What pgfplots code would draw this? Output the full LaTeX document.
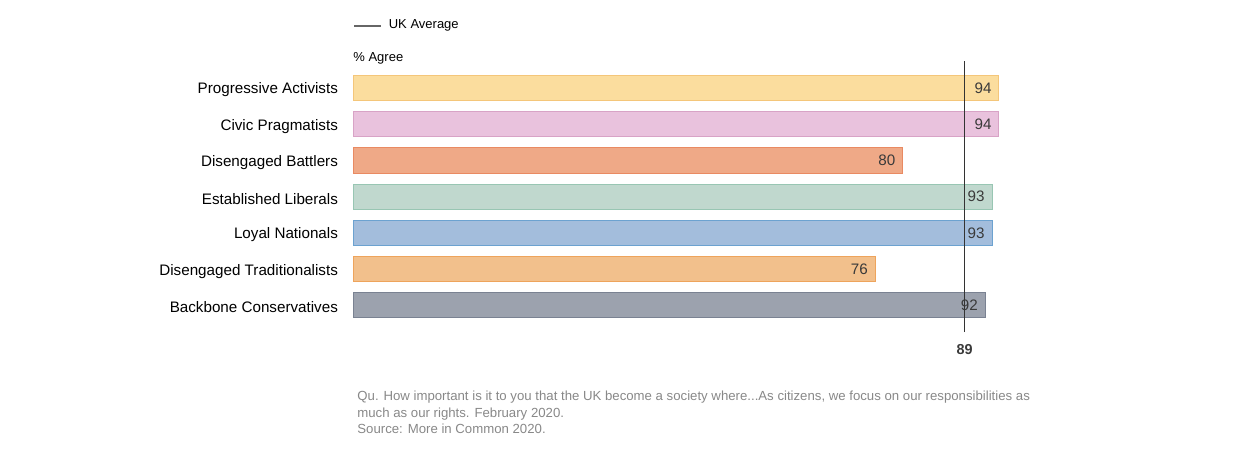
\documentclass[border=0pt]{standalone}
\usepackage{pgfplots}
\pgfplotsset{compat=1.18}
\usepackage{fontspec}
\setmainfont{Liberation Sans}

\definecolor{paFill}{HTML}{FBDD9E}\definecolor{paEdge}{HTML}{F4C67A}
\definecolor{cpFill}{HTML}{E9C2DD}\definecolor{cpEdge}{HTML}{D8A3C6}
\definecolor{dbFill}{HTML}{EFA987}\definecolor{dbEdge}{HTML}{E98A62}
\definecolor{elFill}{HTML}{C0D8CE}\definecolor{elEdge}{HTML}{98C6B3}
\definecolor{lnFill}{HTML}{A3BDDC}\definecolor{lnEdge}{HTML}{6CA2D0}
\definecolor{dtFill}{HTML}{F2C08C}\definecolor{dtEdge}{HTML}{EEA45C}
\definecolor{bcFill}{HTML}{9CA2AE}\definecolor{bcEdge}{HTML}{7A8292}
\definecolor{numtxt}{HTML}{3A3A3A}
\definecolor{notetxt}{HTML}{888888}

\pgfplotsset{
  segbar/.style={xbar, bar shift=0pt, bar width=0.69, line width=0.5pt, forget plot,
    nodes near coords,
    every node near coord/.append style={anchor=east, inner sep=0pt, xshift=-3.5pt,
        font=\fontsize{7.6}{9}\selectfont, text=numtxt}},
}

\begin{document}
\begin{tikzpicture}
% page = 1240 x 458 px, 1px = 0.5pt
\path[use as bounding box] (0,0) rectangle (620pt,229pt);

\begin{axis}[
    at={(176.5pt,67.2pt)}, anchor=south west,
    scale only axis, width=343.6pt, height=126.85pt,
    xmin=0, xmax=100, ymin=-0.5, ymax=6.5,
    clip=false,
    axis line style={draw=none},
    tick style={draw=none},
    xtick=\empty,
    ytick={0,1,2,3,4,5,6},
    yticklabels={Backbone Conservatives, Disengaged Traditionalists, Loyal Nationals,
                 Established Liberals, Disengaged Battlers, Civic Pragmatists, Progressive Activists},
    yticklabel style={font=\fontsize{7.6}{9}\selectfont, text=black, xshift=-4pt, yshift=-1pt},
    /pgf/number format/assume math mode=true,
    legend style={at={(axis description cs:0,1)}, anchor=west, yshift=22pt,
        draw=none, fill=none, inner sep=0pt, font=\fontsize{6.5}{8}\selectfont,
        legend cell align=left},
    legend image code/.code={\draw[#1] (0pt,0pt) -- (13.5pt,0pt); \path (15pt,0pt);},
]
\addplot[segbar, fill=paFill, draw=paEdge] coordinates {(94,6)};
\addplot[segbar, fill=cpFill, draw=cpEdge] coordinates {(94,5)};
\addplot[segbar, fill=dbFill, draw=dbEdge] coordinates {(80,4)};
\addplot[segbar, fill=elFill, draw=elEdge] coordinates {(93,3)};
\addplot[segbar, fill=lnFill, draw=lnEdge] coordinates {(93,2)};
\addplot[segbar, fill=dtFill, draw=dtEdge] coordinates {(76,1)};
\addplot[segbar, fill=bcFill, draw=bcEdge] coordinates {(92,0)};
% UK average
\addplot[draw=black!80, line width=0.75pt, mark=none,
    legend image code/.code={\draw[black!60, line width=0.7pt] (0pt,0pt) -- (13.5pt,0pt); \path (15pt,0pt);}]
    coordinates {(89,-0.733) (89,6.733)};
\addlegendentry{UK Average}
\node[font=\bfseries\fontsize{7.2}{8}\selectfont, text=numtxt] at (axis cs:89,-1.22) {89};
\node[anchor=west, inner sep=0pt, font=\fontsize{6.5}{8}\selectfont] at (axis description cs:0,1) [yshift=6pt] {\% Agree};
\end{axis}

\node[anchor=north west, inner sep=0pt, align=left, text=notetxt,
      font=\fontsize{6.6}{8.25}\selectfont] at (178.5pt,33.5pt)
  {Qu. How important is it to you that the UK become a society where...As citizens, we focus on our responsibilities as\\
   much as our rights. February 2020.\\
   Source: More in Common 2020.};
\end{tikzpicture}
\end{document}
